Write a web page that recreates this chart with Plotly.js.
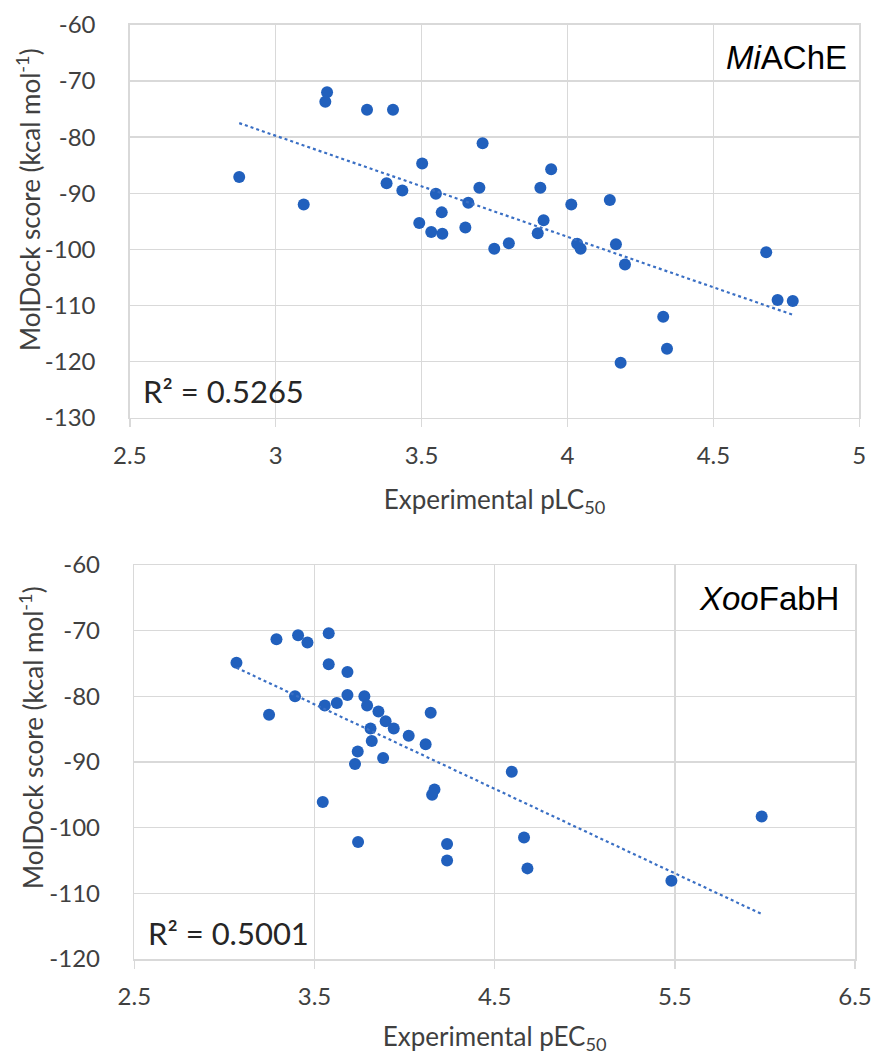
<!DOCTYPE html>
<html>
<head>
<meta charset="utf-8">
<script src="https://cdn.plot.ly/plotly-3.0.1.min.js"></script>
<style>html,body{margin:0;padding:0;background:#fff;}#chart{width:875px;height:1055px;}</style>
</head>
<body>
<div id="chart"></div>
<script>
// ---- MiAChE panel (top) ----
const aX = [2.875, 3.176, 3.170, 3.313, 3.402, 3.709, 3.502, 3.096, 3.380, 3.434, 3.549, 3.698,
            3.660, 3.569, 3.492, 3.533, 3.571, 3.650, 3.944, 3.907, 4.013, 4.145, 3.918, 3.898,
            3.799, 3.749, 4.033, 4.045, 4.166, 4.197, 4.681, 4.720, 4.772, 4.328, 4.341, 4.182];
const aY = [-87.1, -72.0, -73.7, -75.1, -75.1, -81.1, -84.7, -92.0, -88.2, -89.5, -90.1, -89.0,
            -91.7, -93.4, -95.3, -96.9, -97.2, -96.1, -85.7, -89.0, -92.0, -91.2, -94.8, -97.1,
            -98.9, -99.9, -99.0, -99.9, -99.1, -102.7, -100.5, -109.0, -109.2, -112.0, -117.7, -120.2];
// ---- XooFabH panel (bottom) ----
const bX = [3.067, 3.289, 3.409, 3.461, 3.579, 3.579, 3.683, 3.392, 3.557, 3.624, 3.683, 3.777,
            3.792, 3.855, 4.145, 3.248, 3.895, 3.940, 3.811, 3.818, 4.023, 4.117, 3.740, 3.725,
            3.881, 4.166, 4.153, 3.546, 3.742, 4.236, 4.236, 4.595, 4.663, 4.682, 5.982, 5.481];
const bY = [-74.9, -71.3, -70.7, -71.8, -70.4, -75.1, -76.3, -80.0, -81.4, -81.0, -79.8, -80.0,
            -81.4, -82.3, -82.5, -82.8, -83.8, -84.9, -84.9, -86.8, -86.0, -87.3, -88.4, -90.3,
            -89.4, -94.2, -95.0, -96.1, -102.2, -102.5, -105.0, -91.5, -101.5, -106.2, -98.3, -108.1];

const aYTicks = [-60, -70, -80, -90, -100, -110, -120, -130];
const aYText  = ['-60', '-70', '-80', '-90', '-100', '-110', '-120', '-130'];
const bYTicks = [-60, -70, -80, -90, -100, -110, -120];
const bYText  = ['-60', '-70', '-80', '-90', '-100', '-110', '-120'];
const aXTicks = [2.5, 3, 3.5, 4, 4.5, 5];
const aXText  = ['2.5', '3', '3.5', '4', '4.5', '5'];
const bXTicks = [2.5, 3.5, 4.5, 5.5, 6.5];
const bXText  = ['2.5', '3.5', '4.5', '5.5', '6.5'];

const aLabel = '<i>Mi</i>AChE';
const bLabel = '<i>Xoo</i>FabH';
const aR2 = 'R² = 0.5265';
const bR2 = 'R² = 0.5001';
const yTitle = 'MolDock score (kcal mol<sup>-1</sup>)';
const aXTitle = 'Experimental pLC<sub>50</sub>';
const bXTitle = 'Experimental pEC<sub>50</sub>';

function fitLine(xs, ys) {
  const n = xs.length;
  let sx = 0, sy = 0, sxx = 0, sxy = 0;
  for (let i = 0; i < n; i++) { sx += xs[i]; sy += ys[i]; sxx += xs[i]*xs[i]; sxy += xs[i]*ys[i]; }
  const m = (n*sxy - sx*sy) / (n*sxx - sx*sx);
  const c = (sy - m*sx) / n;
  const x0 = Math.min(...xs), x1 = Math.max(...xs);
  return {x: [x0, x1], y: [m*x0 + c, m*x1 + c]};
}

const dotColor = '#2160BD';
const lineColor = '#3A6FC4';
const fA = fitLine(aX, aY), fB = fitLine(bX, bY);

const traces = [
  {x: aX, y: aY, xaxis: 'x', yaxis: 'y', mode: 'markers', type: 'scatter',
   marker: {color: dotColor, size: 12}, hoverinfo: 'x+y', showlegend: false},
  {x: fA.x, y: fA.y, xaxis: 'x', yaxis: 'y', mode: 'lines', type: 'scatter',
   line: {color: lineColor, width: 2.2, dash: 'dot'}, showlegend: false, hoverinfo: 'skip'},
  {x: bX, y: bY, xaxis: 'x2', yaxis: 'y2', mode: 'markers', type: 'scatter',
   marker: {color: dotColor, size: 12}, hoverinfo: 'x+y', showlegend: false},
  {x: fB.x, y: fB.y, xaxis: 'x2', yaxis: 'y2', mode: 'lines', type: 'scatter',
   line: {color: lineColor, width: 2.2, dash: 'dot'}, showlegend: false, hoverinfo: 'skip'}
];

const W = 875, H = 1055;
const tickFont = {family: 'Lato, "Open Sans", sans-serif', size: 24, color: '#404040'};
const titleFont = {family: 'Lato, "Open Sans", sans-serif', size: 26, color: '#404040'};
const grid = '#d9d9d9';

function xAxis(dom, anchor, range, tv, tt, title) {
  return {domain: dom, anchor: anchor, range: range, tickmode: 'array', tickvals: tv, ticktext: tt,
    showgrid: true, gridcolor: grid, gridwidth: 1.5, zeroline: false,
    showline: true, linecolor: grid, linewidth: 1.5, mirror: true,
    ticks: 'outside', ticklen: 8, tickwidth: 1.5, tickcolor: grid,
    ticklabelstandoff: 8, tickfont: tickFont, automargin: false, fixedrange: true,
    title: {text: title, font: titleFont, standoff: 22}};
}
function yAxis(dom, anchor, range, tv, tt) {
  return {domain: dom, anchor: anchor, range: range, tickmode: 'array', tickvals: tv, ticktext: tt,
    showgrid: true, gridcolor: grid, gridwidth: 1.5, zeroline: false,
    showline: true, linecolor: grid, linewidth: 1.5, mirror: true,
    ticks: '', ticklabelstandoff: 28, tickfont: tickFont, automargin: false, fixedrange: true};
}

const layout = {
  width: W, height: H,
  margin: {l: 0, r: 0, t: 0, b: 0},
  paper_bgcolor: '#ffffff', plot_bgcolor: '#ffffff',
  showlegend: false,
  xaxis: xAxis([129.8/W, 859.3/W], 'y', [2.5, 5], aXTicks, aXText, aXTitle),
  yaxis: yAxis([1 - 417.8/H, 1 - 24.9/H], 'x', [-130, -60], aYTicks, aYText),
  xaxis2: xAxis([134.3/W, 855/W], 'y2', [2.5, 6.5], bXTicks, bXText, bXTitle),
  yaxis2: yAxis([1 - 959/H, 1 - 565/H], 'x2', [-120, -60], bYTicks, bYText),
  annotations: [
    {xref: 'paper', yref: 'paper', x: 29/W, y: 1 - 200/H, xanchor: 'center', yanchor: 'middle',
     textangle: -90, text: yTitle, showarrow: false, font: titleFont},
    {xref: 'paper', yref: 'paper', x: 31/W, y: 1 - 738/H, xanchor: 'center', yanchor: 'middle',
     textangle: -90, text: yTitle, showarrow: false, font: titleFont},
    {xref: 'paper', yref: 'paper', x: 849/W, y: 1 - 57/H, xanchor: 'right', yanchor: 'middle',
     text: aLabel, showarrow: false, font: {family: '"Liberation Sans", Arial, sans-serif', size: 33, color: '#000000'}},
    {xref: 'paper', yref: 'paper', x: 841/W, y: 1 - 598/H, xanchor: 'right', yanchor: 'middle',
     text: bLabel, showarrow: false, font: {family: '"Liberation Sans", Arial, sans-serif', size: 33, color: '#000000'}},
    {xref: 'paper', yref: 'paper', x: 141/W, y: 1 - 391/H, xanchor: 'left', yanchor: 'middle',
     text: aR2, showarrow: false, font: {family: 'Lato, "Open Sans", sans-serif', size: 31, color: '#262626'}},
    {xref: 'paper', yref: 'paper', x: 146/W, y: 1 - 933/H, xanchor: 'left', yanchor: 'middle',
     text: bR2, showarrow: false, font: {family: 'Lato, "Open Sans", sans-serif', size: 31, color: '#262626'}}
  ]
};

Plotly.newPlot('chart', traces, layout, {staticPlot: true, displayModeBar: false});
</script>
</body>
</html>
